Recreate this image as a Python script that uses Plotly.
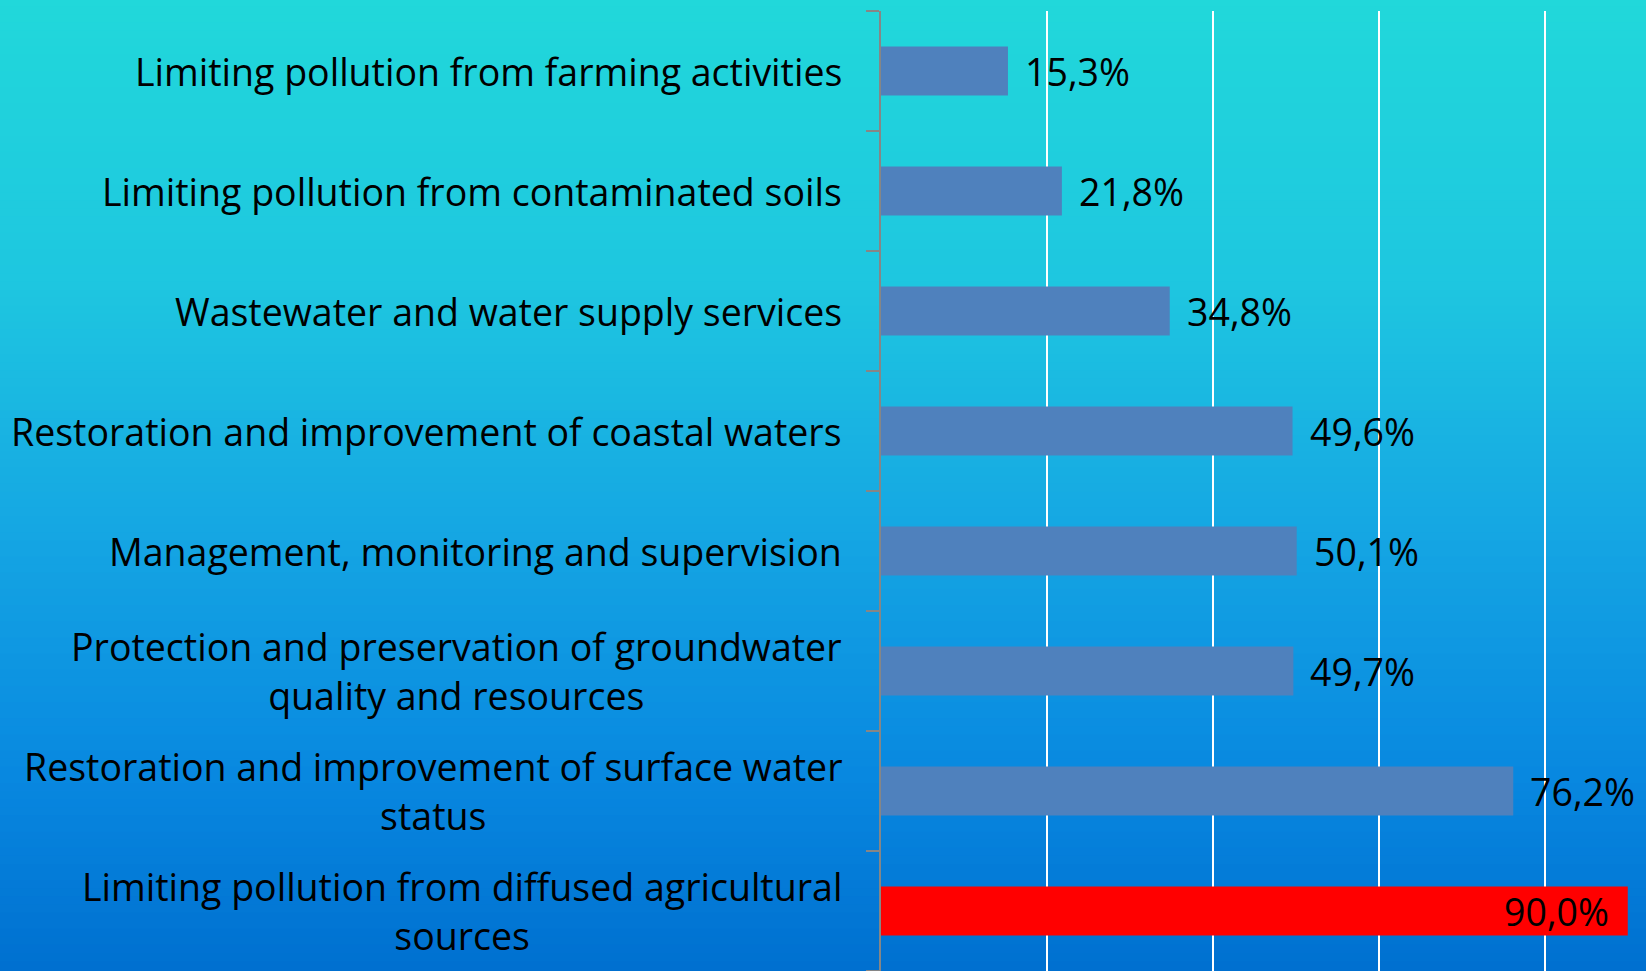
import plotly.graph_objects as go

categories = [
    "Limiting pollution from farming activities",
    "Limiting pollution from contaminated soils",
    "Wastewater and water supply services",
    "Restoration and improvement of coastal waters",
    "Management, monitoring and supervision",
    "Protection and preservation of groundwater<br>quality and resources",
    "Restoration and improvement of surface water<br>status",
    "Limiting pollution from diffused agricultural<br>sources",
]
values = [15.3, 21.8, 34.8, 49.6, 50.1, 49.7, 76.2, 90.0]
value_labels = ["15,3%", "21,8%", "34,8%", "49,6%", "50,1%", "49,7%", "76,2%", "90,0%"]
highlight = [False, False, False, False, False, False, False, True]

FONT = "Open Sans, sans-serif"
FS = 37.5
BAR_BLUE = "#4F81BD"
RED = "#FF0000"
AXIS_GREY = "rgb(134,134,134)"

W, H = 1646, 971
fig = go.Figure()

fig.add_trace(go.Bar(
    y=list(range(len(categories))),
    x=values,
    orientation="h",
    marker=dict(color=[RED if h else BAR_BLUE for h in highlight], line=dict(width=0)),
    hoverinfo="skip",
))

# Background gradient as thin strips covering the whole page
stops = [(0.0, (33, 216, 218)), (0.3, (30, 198, 224)), (0.55, (21, 166, 227)),
         (0.8, (8, 136, 224)), (1.0, (0, 112, 208))]

def col_at(t):
    for (t0, c0), (t1, c1) in zip(stops[:-1], stops[1:]):
        if t0 <= t <= t1:
            f = (t - t0) / (t1 - t0)
            return "rgb(%d,%d,%d)" % tuple(round(a + (b - a) * f) for a, b in zip(c0, c1))
    return "rgb(%d,%d,%d)" % stops[-1][1]

top_extra = 11 / 960.0
N = 120
shapes = []
for i in range(N):
    t = (i + 0.5) / N
    y1 = (1 + top_extra) - i * (1 + top_extra) / N
    y0 = (1 + top_extra) - (i + 1) * (1 + top_extra) / N
    if i == 0:
        y1 += 0.05
    if i == N - 1:
        y0 -= 0.05
    shapes.append(dict(type="rect", xref="paper", yref="paper", x0=-1.5, x1=1.5,
                       y0=y0 - 0.002, y1=y1 + 0.002, fillcolor=col_at(t),
                       line=dict(width=0), layer="below"))

annotations = []
for i, (c, v, lab, h) in enumerate(zip(categories, values, value_labels, highlight)):
    annotations.append(dict(
        xref="paper", yref="y", x=0, y=i, xanchor="right", yanchor="middle",
        xshift=-37, text=c, showarrow=False, align="center",
        font=dict(family=FONT, size=FS, color="#000000"),
    ))
    if h:
        annotations.append(dict(
            xref="x", yref="y", x=v, y=i, xanchor="right", yanchor="middle",
            xshift=-17, text=lab, showarrow=False,
            font=dict(family=FONT, size=FS, color="#000000"),
        ))
    else:
        annotations.append(dict(
            xref="x", yref="y", x=v, y=i, xanchor="left", yanchor="middle",
            xshift=15, text=lab, showarrow=False,
            font=dict(family=FONT, size=FS, color="#000000"),
        ))

fig.update_layout(
    width=W, height=H,
    margin=dict(l=881, r=0, t=11, b=0),
    paper_bgcolor="rgba(0,0,0,0)",
    plot_bgcolor="rgba(0,0,0,0)",
    shapes=shapes,
    annotations=annotations,
    bargap=0.59,
    showlegend=False,
    xaxis=dict(range=[0, 92.2], tickvals=[20, 40, 60, 80], showticklabels=False,
               showgrid=True, gridcolor="#FFFFFF", gridwidth=2, zeroline=False,
               showline=False, fixedrange=True),
    yaxis=dict(range=[7.5, -0.5], tickvals=list(range(len(categories))),
               showticklabels=False, showgrid=False, zeroline=False,
               showline=True, linecolor=AXIS_GREY, linewidth=2,
               ticks="", fixedrange=True),
)

fig.update_yaxes(minor=dict(tickvals=[i - 0.5 for i in range(len(categories) + 1)],
                            ticks="outside", ticklen=13, tickcolor=AXIS_GREY,
                            tickwidth=2, showgrid=False))

fig.write_html("out.html", config={"displayModeBar": False},
               post_script="document.body.style.margin='0';document.body.style.overflow='hidden';")
